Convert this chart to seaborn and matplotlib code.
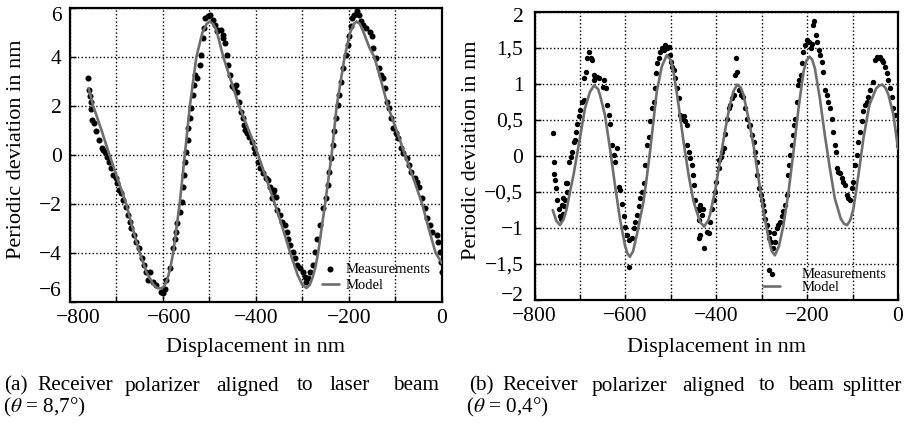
import matplotlib
matplotlib.use("Agg")
import matplotlib.pyplot as plt
import matplotlib.transforms as mtrans
import seaborn as sns

# ---------------- data ----------------
x_ticks = [-800, -600, -400, -200, 0]
x_minor = [-700, -500, -300, -100]
x_ticklabels = ["\u2212800", "\u2212600", "\u2212400", "\u2212200", "0"]

a_yticks = [-6, -4, -2, 0, 2, 4, 6]
a_yticklabels = ["\u22126", "\u22124", "\u22122", "0", "2", "4", "6"]
b_yticks = [-2, -1.5, -1, -0.5, 0, 0.5, 1, 1.5, 2]
b_yticklabels = ["\u22122", "\u22121,5", "\u22121", "\u22120,5", "0", "0,5", "1", "1,5", "2"]

# (a) measurements
meas_a_x = [-761, -760, -758, -755, -754, -753, -748, -743, -738, -732, -729, -725, -720, -715,
            -711, -707, -702, -698, -695, -691, -686, -679, -675, -671, -668, -663, -657, -652,
            -646, -641, -636, -633, -628, -621, -614, -605, -600, -595, -593, -585, -578, -575,
            -571, -569, -564, -560, -557, -555, -552, -550, -546, -545, -542, -539, -535, -533,
            -530, -527, -520, -517, -513, -512, -509, -504, -499, -493, -488, -484, -481, -476,
            -471, -470, -466, -463, -459, -456, -452, -448, -443, -440, -436, -433, -428, -425,
            -423, -418, -414, -409, -405, -402, -395, -391, -384, -378, -373, -370, -366, -364,
            -361, -357, -354, -349, -344, -337, -334, -330, -327, -321, -316, -312, -305, -298,
            -294, -291, -287, -283, -278, -273, -269, -262, -255, -250, -245, -243, -238, -235,
            -231, -228, -224, -221, -217, -212, -207, -202, -200, -195, -192, -188, -183, -179,
            -174, -169, -162, -154, -151, -147, -142, -136, -131, -126, -122, -118, -113, -109,
            -104, -99, -93, -88, -83, -75, -70, -65, -58, -54, -49, -43, -37, -32, -25, -20,
            -11, -7, -4, -2, 0]
meas_a_y = [3.14, 2.66, 2.39, 2.18, 1.88, 1.43, 1.30, 0.96, 0.62, 0.27, 0.21, 0.14, -0.07, -0.27,
            -0.54, -0.82, -0.95, -1.16, -1.43, -1.57, -1.84, -2.11, -2.45, -2.72, -2.99, -3.27, -3.54, -3.81,
            -4.22, -4.50, -4.77, -5.11, -4.77, -5.18, -5.31, -5.59, -5.65, -5.45, -5.11, -4.63, -3.81, -3.41,
            -3.13, -2.79, -2.32, -1.91, -1.29, -0.82, -0.27, 0.14, 0.62, 1.09, 1.50, 1.91, 2.46, 2.86,
            3.27, 3.14, 3.68, 4.09, 4.77, 5.18, 5.59, 5.66, 5.73, 5.52, 5.32, 5.05, 5.11, 5.11,
            4.91, 4.77, 4.57, 4.09, 3.68, 3.27, 2.80, 2.73, 2.86, 2.59, 2.18, 1.77, 1.50, 1.23,
            1.02, 0.89, 0.75, 0.55, 0.27, 0.07, -0.27, -0.54, -0.75, -0.95, -1.02, -1.29, -1.77, -1.50,
            -1.43, -1.70, -2.25, -2.45, -2.72, -2.86, -3.13, -3.41, -3.68, -3.95, -4.22, -4.50, -4.63, -4.77,
            -4.97, -5.18, -5.04, -4.77, -4.50, -3.95, -3.41, -2.86, -2.18, -1.77, -1.23, -0.68, -0.14, 0.41,
            0.96, 1.50, 2.05, 2.46, 3.00, 3.55, 4.09, 4.50, 4.84, 5.25, 5.59, 5.73, 5.89, 5.73,
            5.45, 5.32, 5.18, 5.04, 4.84, 4.36, 3.95, 3.55, 3.27, 3.14, 2.73, 2.18, 1.91, 1.50,
            1.09, 0.89, 0.68, 0.27, 0.07, -0.14, -0.41, -0.68, -0.95, -1.09, -1.29, -1.77, -2.18, -2.59, -2.86, -3.13,
            -3.27, -3.54, -3.95, -4.36, -4.77]

# (a) model
model_a_x = [-760, -750, -732, -715, -697, -679, -665, -650, -635, -620, -612, -604, -597, -590,
             -584, -578, -564, -553, -542, -528, -515, -506, -499, -492, -485, -470, -453, -436,
             -415, -395, -377, -359, -342, -326, -310, -300, -291, -284, -278, -272, -266, -251,
             -237, -226, -209, -197, -189, -183, -176, -168, -156, -145, -130, -116, -97, -79,
             -60, -42, -28, -13, 0]
model_a_y = [2.73, 2.0, 1.0, 0.0, -1.0, -2.0, -3.0, -4.0, -4.8, -5.3, -5.43, -5.45, -5.35, -5.05,
             -4.6, -4.0, -2.0, 0.0, 2.0, 4.0, 5.0, 5.35, 5.45, 5.35, 5.1, 4.0, 3.0, 2.0,
             1.0, 0.0, -1.0, -2.0, -3.0, -4.0, -4.9, -5.3, -5.43, -5.3, -5.0, -4.6, -4.0, -2.0,
             0.0, 2.0, 4.0, 5.0, 5.35, 5.45, 5.35, 5.0, 4.4, 4.0, 3.0, 2.0, 1.0, 0.0,
             -1.0, -2.0, -3.0, -4.0, -4.4]

# (b) measurements
meas_b_x = [-760, -758, -757, -755, -753, -750, -745, -744, -742, -740, -738, -737, -735, -733,
            -731, -729, -728, -723, -720, -718, -714, -711, -709, -706, -703, -700, -696, -692,
            -691, -687, -684, -680, -676, -674, -670, -669, -663, -657, -650, -647, -643, -640,
            -635, -634, -630, -626, -623, -618, -615, -612, -608, -603, -601, -597, -593, -591,
            -586, -582, -579, -575, -571, -568, -564, -560, -557, -553, -549, -546, -542,
            -538, -535, -533, -530, -527, -524, -520, -516, -513, -509, -505, -502, -500, -498,
            -494, -491, -487, -481, -480, -476, -472, -469, -465, -464, -459, -458, -454, -452,
            -450, -447, -443, -439, -439, -437, -436, -436, -432, -430, -427, -421, -417, -414,
            -410, -406, -403, -400, -395, -393, -390, -388, -384, -381, -377, -373, -370, -366,
            -362, -359, -356, -354, -349, -346, -342, -337, -333, -329, -326, -322, -318, -315,
            -311, -310, -305, -302, -300, -298, -296, -293, -289, -285, -283, -283, -280, -276,
            -274, -271, -267, -263, -260, -256, -252, -249, -245, -241, -239, -238, -234, -232,
            -229, -227, -223, -219, -217, -214, -212, -208, -205, -200, -195, -192, -190, -188,
            -185, -181, -178, -173, -172, -168, -164, -161, -157, -153, -150, -146, -142, -139,
            -136, -134, -131, -128, -124, -120, -117, -113, -109, -106, -102, -98, -95, -91,
            -87, -84, -80, -76, -73, -69, -65, -62, -54, -51, -47, -43, -40, -36, -32, -29,
            -25, -21, -18, -14, -10, -7, -3, 0]
meas_b_y = [0.32, -0.09, -0.25, -0.33, -0.45, -0.61, -0.73, -0.84, -0.88, -0.68, -0.80, -0.59, -0.70, -0.61,
            -0.38, -0.50, -0.38, -0.08, -0.01, 0.06, 0.20, 0.22, 0.34, 0.45, 0.55, 0.64, 0.75, 0.78,
            1.08, 1.17, 1.36, 1.45, 1.36, 1.33, 1.13, 1.06, 1.10, 1.08, 0.96, 1.06, 0.94, 0.71,
            0.57, 0.45, 0.15, 0.01, -0.08, 0.11, -0.43, -0.47, -0.66, -0.84, -0.98, -1.10, -1.17, -1.54,
            -1.14, -1.00, -0.91, -0.82, -0.70, -0.59, -0.50, -0.38, -0.13, 0.15, 0.27, 0.48, 0.66,
            0.75, 0.94, 1.15, 1.29, 1.36, 1.45, 1.50, 1.47, 1.54, 1.50, 1.52, 1.40, 1.31, 1.24,
            1.19, 1.08, 0.94, 0.80, 0.57, 0.52, 0.55, 0.48, 0.43, 0.15, 0.06, -0.03, -0.13, -0.26,
            -0.40, -0.61, -0.73, -0.75, -1.14, -0.89, -0.68, -1.10, -0.82, -0.73, -1.28, -1.05, -1.07, -0.91,
            -0.73, -0.61, -0.50, -0.36, -0.17, -0.06, -0.01, 0.06, 0.11, 0.31, 0.52, 0.66, 0.71, 0.80,
            0.85, 1.13, 1.36, 1.17, 0.92, 0.85, 0.82, 0.66, 0.52, 0.41, 0.43, 0.29, 0.20, 0.06,
            -0.08, -0.26, -0.45, -0.54, -0.61, -0.68, -0.77, -0.87, -0.96, -1.05, -1.14, -1.58, -1.19, -1.28,
            -1.07, -1.19, -1.00, -0.96, -0.91, -0.84, -0.77, -0.68, -0.54, -0.26, -0.13, 0.01, 0.15, 0.29,
            0.43, 0.52, 0.75, 0.99, 1.06, 1.13, 1.29, 1.45, 1.54, 1.61, 1.59, 1.50, 1.56, 1.82,
            1.87, 1.68, 1.59, 1.47, 1.40, 1.31, 1.17, 0.92, 0.85, 0.75, 0.66, 0.52, 0.34, 0.15,
            0.06, -0.17, -0.22, -0.24, -0.31, -0.36, -0.40, -0.54, -0.59, -0.61, -0.45, -0.36, -0.13, 0.01,
            0.20, 0.34, 0.48, 0.62, 0.71, 0.75, 0.82, 0.92, 1.03, 1.33, 1.38, 1.36, 1.38, 1.33, 1.31, 1.24,
            1.15, 1.06, 0.94, 0.82, 0.66, 0.57, 0.34, 0.15]

# (b) model
model_b_x = [-760, -752, -744, -736, -729, -722, -714, -707, -700, -689, -678, -669, -660, -656,
             -645, -634, -623, -612, -601, -595, -590, -583, -575, -568, -560, -553, -545, -538,
             -531, -520, -509, -500, -494, -483, -472, -461, -450, -436, -427, -418, -414, -403,
             -392, -381, -370, -362, -354, -346, -340, -329, -318, -307, -296, -285, -278, -271,
             -262, -252, -241, -230, -219, -208, -202, -195, -189, -183, -172, -161, -150, -139,
             -126, -119, -112, -105, -98, -87, -76, -63, -48, -41, -34, -27, -21, -10, 0]
model_b_y = [-0.75, -0.90, -0.96, -0.88, -0.73, -0.50, -0.26, 0.0, 0.25, 0.66, 0.89, 0.98, 0.93, 0.85,
             0.57, 0.11, -0.40, -0.87, -1.24, -1.36, -1.40, -1.32, -1.10, -0.88, -0.63, -0.30, 0.10, 0.50,
             0.89, 1.24, 1.40, 1.33, 1.17, 0.71, 0.20, -0.26, -0.63, -0.91, -0.98, -0.90, -0.82, -0.50,
             -0.08, 0.34, 0.71, 0.90, 0.99, 0.95, 0.85, 0.52, 0.15, -0.31, -0.77, -1.14, -1.32, -1.38,
             -1.25, -0.96, -0.50, 0.06, 0.66, 1.17, 1.32, 1.38, 1.34, 1.22, 0.80, 0.29, -0.17, -0.59,
             -0.87, -0.94, -0.96, -0.89, -0.73, -0.26, 0.25, 0.71, 0.94, 0.98, 0.99, 0.94, 0.85, 0.57, 0.10]

# ---------------- style ----------------
sns.set_theme(style="white")
plt.rcParams["font.family"] = ["Liberation Serif", "DejaVu Serif"]
plt.rcParams["mathtext.fontset"] = "stix"
plt.rcParams["text.color"] = "black"
plt.rcParams["axes.labelcolor"] = "black"
plt.rcParams["xtick.color"] = "black"
plt.rcParams["ytick.color"] = "black"

MODEL_COLOR = "#6e6e6e"
FS = 16
TFS = 15.5

W, H = 905, 430
fig = plt.figure(figsize=(W / 100, H / 100), dpi=100)


def rect(l, t, r, b):
    return [l / W, 1 - b / H, (r - l) / W, (b - t) / H]


ax1 = fig.add_axes(rect(70, 8, 441.7, 302))
ax2 = fig.add_axes(rect(534.5, 12, 898, 300))


def draw(ax, mx, my, lx, ly, s, yticks, yticklabels, ylim, ypad, leg_anchor, leg_tpad, leg_lspace):
    sns.scatterplot(x=mx, y=my, ax=ax, color="black", s=s, linewidth=0,
                    label="Measurements", zorder=3)
    sns.lineplot(x=lx, y=ly, ax=ax, color=MODEL_COLOR, linewidth=1.9,
                 label="Model", estimator=None, sort=False, zorder=4)
    ax.set_xlim(-800, 0)
    ax.set_ylim(*ylim)
    ax.set_xticks(x_ticks)
    ax.set_xticklabels(x_ticklabels, fontsize=TFS)
    ax.set_xticks(x_minor, minor=True)
    ax.set_yticks(yticks)
    ax.set_yticklabels(yticklabels, fontsize=TFS)
    ax.tick_params(which="both", direction="in", length=4, width=1,
                   top=False, right=False, bottom=True, left=True)
    ax.tick_params(axis="x", which="major", pad=5)
    ax.tick_params(axis="y", which="major", pad=ypad)
    ax.set_axisbelow(True)
    ax.grid(True, which="major", axis="both", linestyle=":", color="black", linewidth=1.0)
    ax.grid(True, which="minor", axis="x", linestyle=":", color="black", linewidth=1.0)
    for sp in ax.spines.values():
        sp.set_visible(True)
        sp.set_color("black")
        sp.set_linewidth(1.6)
    ax.set_xlabel("Displacement in nm", fontsize=FS)
    ax.set_ylabel("Periodic deviation in nm", fontsize=FS)
    leg = ax.legend(loc="lower left", bbox_to_anchor=leg_anchor, frameon=False,
                    fontsize=10.5, borderpad=0, borderaxespad=0, handlelength=1.15,
                    handletextpad=leg_tpad, labelspacing=leg_lspace, markerscale=1.0)
    for t in leg.get_texts():
        t.set_color("black")


draw(ax1, meas_a_x, meas_a_y, model_a_x, model_a_y, 19, a_yticks, a_yticklabels, (-6, 6), 6,
     (0.678, 0.035), 0.5, 0.2)
draw(ax2, meas_b_x, meas_b_y, model_b_x, model_b_y, 15, b_yticks, b_yticklabels, (-2, 2), 8,
     (0.629, 0.022), 1.5, -0.05)

ax1.yaxis.set_label_coords(-0.145, 0.52)
ax2.yaxis.set_label_coords(-0.172, 0.52)
ax1.yaxis.label.set_va("center")
ax2.yaxis.label.set_va("center")
ax1.xaxis.set_label_coords(0.5, -0.155)
ax2.xaxis.set_label_coords(0.5, -0.165)
ax1.xaxis.label.set_va("center")
ax2.xaxis.label.set_va("center")


def shift(lbl, dx, dy):
    lbl.set_transform(lbl.get_transform() + mtrans.Affine2D().translate(dx, dy))


# edge tick labels pulled inward as in the reference
t1 = ax1.yaxis.get_major_ticks()
shift(t1[0].label1, 0, 13)
shift(t1[-1].label1, 0, -6)
t2 = ax2.yaxis.get_major_ticks()
shift(t2[0].label1, 0, 6)
shift(t2[-1].label1, 0, -3)
tx = ax1.xaxis.get_major_ticks()
shift(tx[0].label1, 8, 0)
shift(tx[1].label1, 6, 0)

# captions
cap_fs = 15.3
y1 = 1 - 390.5 / H
y2 = 1 - 412 / H
words_a = ["(a)", "Receiver", "polarizer", "aligned", "to", "laser", "beam"]
centers_a = [16, 75, 162.5, 247.5, 305, 350, 416]
for w, c in zip(words_a, centers_a):
    fig.text(c / W, y1, w, ha="center", va="baseline", fontsize=cap_fs)
fig.text(3 / W, y2, r"($\theta$ = 8,7°)", ha="left", va="baseline", fontsize=cap_fs)

words_b = ["(b)", "Receiver", "polarizer", "aligned", "to", "beam"]
centers_b = [481, 540, 629, 714, 767, 811]
for w, c in zip(words_b, centers_b):
    fig.text(c / W, y1, w, ha="center", va="baseline", fontsize=cap_fs)
fig.text(842 / W, y1, "splitter", ha="left", va="baseline", fontsize=cap_fs)
fig.text(466 / W, y2, r"($\theta$ = 0,4°)", ha="left", va="baseline", fontsize=cap_fs)

fig.savefig("out.png", dpi=100)
